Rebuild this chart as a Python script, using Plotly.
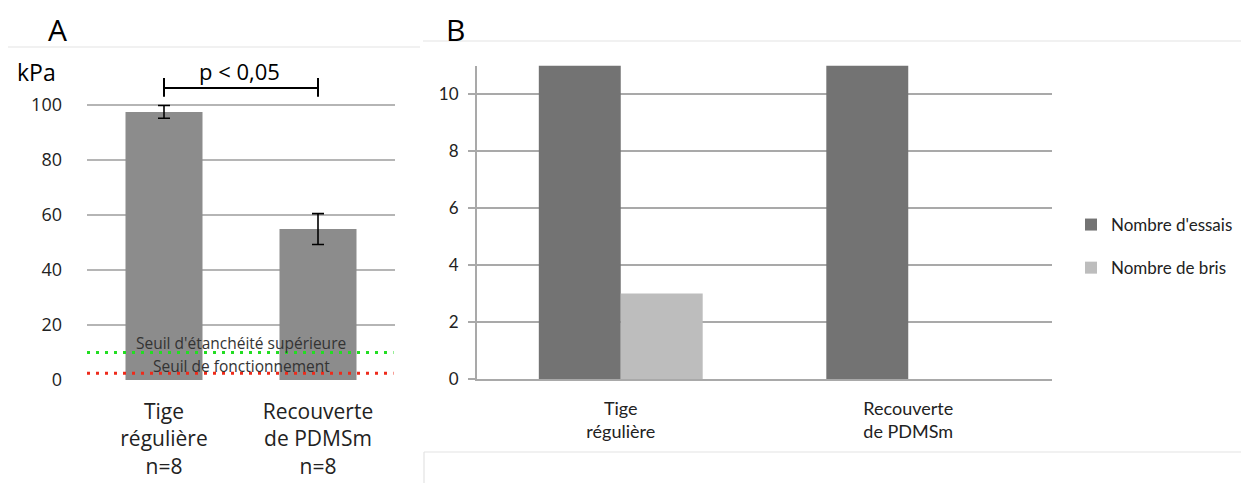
import plotly.graph_objects as go

# ---------- data ----------
cats_a = ["Tige<br>régulière<br>n=8", "Recouverte<br>de PDMSm<br>n=8"]
pressure_kpa = [97.5, 54.9]
pressure_err = [2.3, 5.6]
seuil_etancheite = 10
seuil_fonctionnement = 2.5
bracket_low, bracket_mid, bracket_high = 103, 106.2, 109.8
ticks_a = [0, 20, 40, 60, 80, 100]

cats_b = ["Tige<br>régulière", "Recouverte<br>de PDMSm"]
nombre_essais = [11, 11]
nombre_bris = [3, 0]
ticks_b = [0, 2, 4, 6, 8, 10]

# the page body has an 8px margin: size the figure so it fills the window
OFF = 8
W, H = 1249 - OFF, 483 - OFF
def fx(px): return (px - OFF) / W
def fy(py): return 1 - (py - OFF) / H

fa = "Open Sans"
fb = "Lato"

fig = go.Figure()

# ---------- panel A ----------
fig.add_trace(go.Bar(
    x=cats_a, y=pressure_kpa, xaxis="x", yaxis="y", width=0.5,
    marker=dict(color="#8c8c8c", line=dict(width=0)),
    error_y=dict(type="data", array=pressure_err, color="black", thickness=1.6, width=6),
    showlegend=False, hoverinfo="skip",
))
# significance bracket
fig.add_trace(go.Scatter(
    x=[cats_a[0], cats_a[0], None, cats_a[0], cats_a[1], None, cats_a[1], cats_a[1]],
    y=[bracket_high, bracket_low, None, bracket_mid, bracket_mid, None, bracket_high, bracket_low],
    mode="lines", line=dict(color="black", width=2), cliponaxis=False,
    xaxis="x", yaxis="y", showlegend=False, hoverinfo="skip",
))
# thresholds
fig.add_shape(type="line", xref="x domain", yref="y", x0=0, x1=0.995,
              y0=seuil_etancheite, y1=seuil_etancheite,
              line=dict(color="#22dd22", width=3, dash="3px,6px"))
fig.add_shape(type="line", xref="x domain", yref="y", x0=0, x1=0.995,
              y0=seuil_fonctionnement, y1=seuil_fonctionnement,
              line=dict(color="#ee2a1a", width=3, dash="3px,6px"))
fig.add_annotation(text="Seuil d'étanchéité supérieure", xref="x domain", yref="y",
                   x=0.5, y=seuil_etancheite + 3.5, showarrow=False,
                   xanchor="center", yanchor="middle",
                   font=dict(family=fa, size=15.5, color="#333333"))
fig.add_annotation(text="Seuil de fonctionnement", xref="x domain", yref="y",
                   x=0.5, y=seuil_fonctionnement + 2.7, showarrow=False,
                   xanchor="center", yanchor="middle",
                   font=dict(family=fa, size=15.5, color="#333333"))

def label(text, x, y, size, family=fa):
    fig.add_annotation(text=text, xref="paper", yref="paper", x=fx(x), y=fy(y),
                       xanchor="center", yanchor="middle", showarrow=False,
                       font=dict(family=family, size=size, color="black"))

label("p < 0,05", 239, 71, 22)
label("kPa", 36, 72, 23)
label("A", 57, 29, 30)

# ---------- panel B ----------
fig.add_trace(go.Bar(
    x=cats_b, y=nombre_essais, xaxis="x2", yaxis="y2", name="Nombre d'essais",
    marker=dict(color="#737373", line=dict(width=0)), legendgroup="a",
))
fig.add_trace(go.Bar(
    x=cats_b, y=nombre_bris, xaxis="x2", yaxis="y2", name="Nombre de bris",
    marker=dict(color="#bdbdbd", line=dict(width=0)), legendgroup="b",
))
label("B", 455, 29, 30)

# frame lines
sep = "#e3e3e3"
def pline(x0, y0, x1, y1):
    fig.add_shape(type="line", xref="paper", yref="paper", x0=fx(x0), x1=fx(x1),
                  y0=fy(y0), y1=fy(y1), line=dict(color=sep, width=1.2))
pline(OFF, 47, 420, 47)
pline(423, 41, 1249, 41)
pline(424, 452, 1249, 452)
pline(424, 452, 424, 483)

fig.update_layout(
    width=W, height=H, margin=dict(l=0, r=0, t=0, b=0, autoexpand=False),
    paper_bgcolor="white", plot_bgcolor="white",
    barmode="group", bargap=0.43, bargroupgap=0,
    xaxis=dict(domain=[fx(87), fx(395)], showgrid=False, zeroline=False, showline=False,
               ticks="", tickfont=dict(family=fa, size=21, color="#222"),
               ticklabelstandoff=17, fixedrange=True),
    yaxis=dict(domain=[fy(380), fy(77.5)], range=[0, 110], tickvals=ticks_a,
               showgrid=True, gridcolor="#b5b5b5", gridwidth=1.5, zeroline=False,
               showline=False, ticks="", tickfont=dict(family=fa, size=18, color="#222"),
               ticklabelstandoff=24),
    xaxis2=dict(domain=[fx(477), fx(1052)], anchor="y2", showgrid=False, zeroline=False,
                showline=True, linecolor="#a9a9a9", linewidth=2, ticks="",
                tickfont=dict(family=fb, size=18, color="#222"), ticklabelstandoff=12),
    yaxis2=dict(domain=[fy(379), fy(65.5)], anchor="x2", range=[0, 11], tickvals=ticks_b,
                showgrid=True, gridcolor="#a9a9a9", gridwidth=1.5, zeroline=False,
                showline=True, linecolor="#a9a9a9", linewidth=2,
                ticks="outside", ticklen=7, tickcolor="#a9a9a9", tickwidth=1.5,
                tickfont=dict(family=fb, size=17, color="#222"), ticklabelstandoff=6),
    legend=dict(x=fx(1071), y=fy(207), xanchor="left", yanchor="top",
                font=dict(family=fb, size=17, color="#222"), tracegroupgap=18,
                bgcolor="rgba(0,0,0,0)"),
    showlegend=True,
)
fig.write_html("out.html")
